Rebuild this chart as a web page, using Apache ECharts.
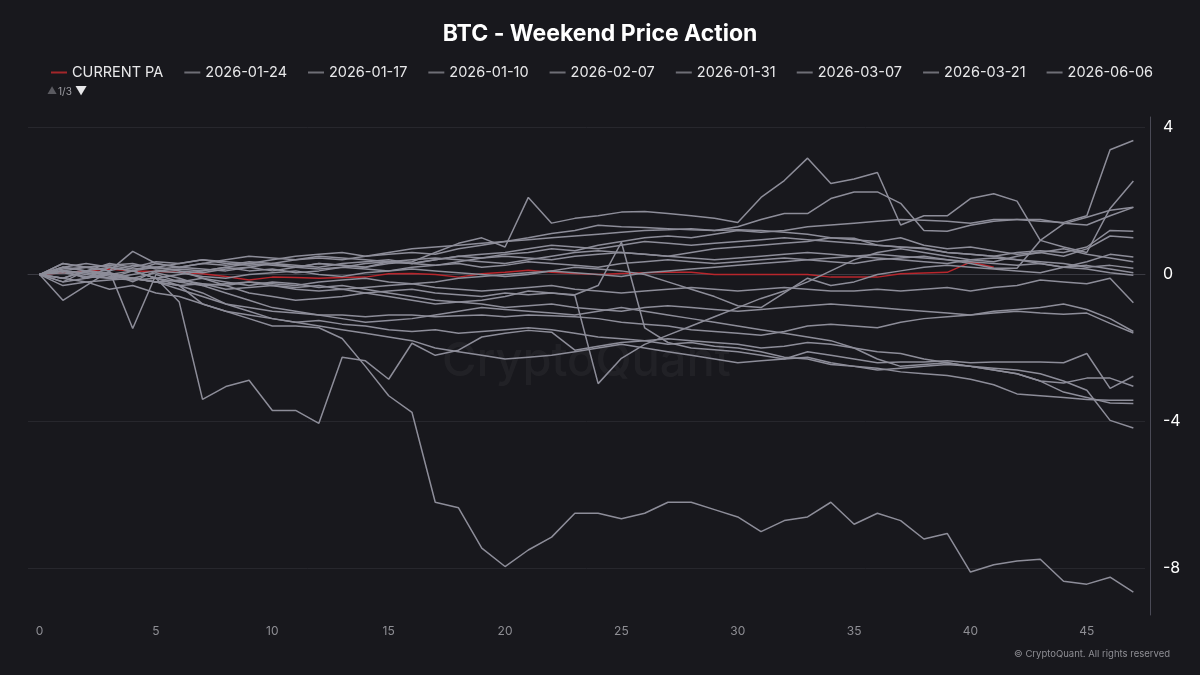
<!DOCTYPE html>
<html>
<head>
<meta charset="utf-8">
<title>BTC - Weekend Price Action</title>
<script type="text/javascript" src="https://cdn.jsdelivr.net/npm/echarts@6/dist/echarts.min.js"></script>
<style>
  html, body { margin: 0; padding: 0; background: #18181d; }
  #chart_view { width: 1200px; height: 675px; }
</style>
</head>
<body>
<div id="chart_view"></div>
<script type="text/javascript">
var steps = ['0','1','2','3','4','5','6','7','8','9','10','11','12','13','14','15','16','17','18','19','20','21','22','23',
             '24','25','26','27','28','29','30','31','32','33','34','35','36','37','38','39','40','41','42','43','44','45','46','47'];
var yTicks = [-8, -4, 0, 4];

var names = ['CURRENT PA','2026-01-24','2026-01-17','2026-01-10','2026-02-07','2026-01-31','2026-03-07','2026-03-21','2026-06-06',
             '2026-02-14','2026-02-21','2026-02-28','2026-03-14','2026-03-28','2026-04-04','2026-04-11','2026-04-18','2026-04-25',
             '2026-05-02','2026-05-09','2026-05-16'];

var current_pa = [0, 0.05, 0.1, 0.15, 0.1, 0.08, 0.06, 0.02, -0.05, -0.15, -0.07, -0.08, -0.1, -0.08, -0.07, 0.02, 0.03, 0, -0.07, 0.02, 0.06, 0.12, 0.06, 0.03, 0, 0.03, 0.05, 0.06, 0.06, 0, 0, 0, 0, 0, -0.07, -0.07, -0.07, 0.02, 0.04, 0.06, 0.34, 0.2];

var w_0124 = [0, 0.15, 0.2, 0.1, 0.25, 0.2, 0.1, 0.05, 0.15, 0.2, 0.1, 0.2, 0.3, 0.25, 0.2, 0.35, 0.3, 0.4, 0.5, 0.45, 0.55, 0.6, 0.7, 0.65, 0.8, 0.9, 1.0, 1.05, 1.0, 1.1, 1.2, 1.15, 1.2, 1.3, 1.35, 1.4, 1.45, 1.5, 1.48, 1.45, 1.4, 1.5, 1.5, 1.45, 1.42, 1.6, 3.4, 3.65];
var w_0117 = [0, 0.1, 0.2, 0.25, 0.3, 0.15, 0.2, 0.3, 0.25, 0.35, 0.3, 0.2, 0.3, 0.25, 0.2, 0.3, 0.35, 0.6, 0.85, 1.0, 0.75, 2.1, 1.4, 1.53, 1.6, 1.7, 1.72, 1.66, 1.6, 1.53, 1.42, 2.1, 2.56, 3.17, 2.48, 2.6, 2.78, 1.35, 1.6, 1.6, 2.07, 2.2, 2.0, 0.93, 0.75, 0.6, 1.8, 2.55];
var w_0110 = [0, 0.2, 0.1, 0.3, 0.2, 0.35, 0.3, 0.4, 0.3, 0.25, 0.3, 0.4, 0.45, 0.4, 0.5, 0.55, 0.6, 0.55, 0.7, 0.8, 0.9, 1.0, 1.12, 1.2, 1.34, 1.3, 1.28, 1.25, 1.22, 1.2, 1.3, 1.5, 1.66, 1.66, 2.07, 2.25, 2.25, 1.94, 1.2, 1.18, 1.34, 1.45, 1.5, 1.5, 1.4, 1.35, 1.6, 1.83];
var w_0207 = [0, -0.1, 0.1, 0.05, -0.2, 0.1, 0.15, 0.1, 0.2, 0.1, 0.15, 0.05, 0.1, 0.2, 0.15, 0.1, 0.2, 0.25, 0.3, 0.2, 0.25, 0.35, 0.3, 0.25, 0.2, 0.3, 0.35, 0.4, 0.35, 0.3, 0.35, 0.4, 0.45, 0.4, 0.35, 0.3, 0.4, 0.45, 0.5, 0.4, 0.3, 0.17, 0.17, 0.93, 1.38, 1.56, 1.75, 1.83];
var w_0131 = [0, 0.3, 0.2, 0.1, 0.63, 0.3, 0.2, 0.3, 0.4, 0.5, 0.45, 0.4, 0.5, 0.45, 0.4, 0.35, 0.3, 0.4, 0.5, 0.55, 0.6, 0.7, 0.8, 0.75, 0.7, 0.8, 0.9, 0.85, 0.8, 0.85, 0.9, 0.95, 1.0, 0.95, 0.9, 0.85, 0.8, 0.75, 0.7, 0.6, 0.55, 0.5, 0.6, 0.65, 0.6, 0.75, 1.2, 1.18];
var w_0307 = [0, 0.1, -0.1, 0.2, 0.1, 0.3, 0.2, 0.15, 0.1, 0.2, 0.3, 0.25, 0.2, 0.3, 0.35, 0.4, 0.3, 0.25, 0.35, 0.45, 0.5, 0.45, 0.4, 0.5, 0.55, 0.6, 0.55, 0.5, 0.6, 0.7, 0.75, 0.8, 0.85, 0.9, 1.0, 0.95, 0.9, 1.0, 0.8, 0.7, 0.75, 0.65, 0.55, 0.6, 0.5, 0.7, 1.05, 1.0];
var w_0321 = [0, -0.2, 0.1, 0.2, 0.1, -0.1, 0.0, 0.1, 0.2, 0.3, 0.25, 0.2, 0.15, 0.2, 0.3, 0.35, 0.4, 0.45, 0.4, 0.35, 0.3, 0.4, 0.5, 0.6, 0.65, 0.6, 0.55, 0.5, 0.45, 0.4, 0.45, 0.5, 0.55, 0.6, 0.55, 0.5, 0.45, 0.4, 0.35, 0.3, 0.4, 0.45, 0.4, 0.3, 0.2, 0.35, 0.55, 0.48];
var w_0606 = [0, 0.2, 0.3, 0.2, 0.1, 0.2, 0.3, 0.4, 0.35, 0.3, 0.4, 0.5, 0.55, 0.6, 0.5, 0.6, 0.7, 0.75, 0.8, 0.85, 0.9, 0.95, 1.0, 1.05, 1.1, 1.15, 1.2, 1.22, 1.25, 1.2, 1.22, 1.2, 1.15, 1.1, 1.0, 0.99, 0.8, 0.75, 0.72, 0.6, 0.55, 0.5, 0.4, 0.35, 0.3, 0.2, 0.25, 0.17];
var w_0214 = [0, 0.1, 0.05, -0.1, 0.0, 0.1, 0.05, -0.05, -0.1, 0.0, 0.05, 0.1, 0.0, -0.05, 0.05, 0.1, 0.15, 0.1, 0.05, 0.0, -0.05, 0.0, 0.1, 0.2, 0.15, 0.1, 0.0, -0.2, -0.4, -0.6, -0.85, -0.9, -0.5, -0.1, -0.3, -0.2, 0.0, 0.1, 0.2, 0.25, 0.2, 0.15, 0.1, 0.05, 0.2, 0.25, 0.15, 0.05];
var w_0221 = [0, 0.1, -0.1, 0.05, -0.1, -0.2, -0.3, -0.25, -0.4, -0.35, -0.3, -0.4, -0.45, -0.4, -0.5, -0.45, -0.4, -0.5, -0.55, -0.6, -0.5, -0.55, -0.5, -0.55, -0.3, 0.88, -1.45, -1.85, -2.0, -2.05, -2.1, -2.2, -2.3, -2.1, -2.2, -2.3, -2.4, -2.38, -2.38, -2.35, -2.4, -2.38, -2.38, -2.38, -2.4, -2.15, -3.1, -2.77];
var w_0228 = [0, -0.1, -0.2, -0.15, -0.1, -0.2, -0.15, -0.25, -0.3, -0.2, -0.25, -0.3, -0.2, -0.15, -0.1, -0.2, -0.25, -0.2, -0.1, -0.05, 0.0, 0.05, 0.1, 0.05, 0.0, -0.05, 0.05, 0.1, 0.15, 0.2, 0.25, 0.3, 0.35, 0.4, 0.45, 0.5, 0.55, 0.5, 0.45, 0.4, 0.35, 0.3, 0.25, 0.3, 0.2, 0.15, 0.05, -0.02];
var w_0314 = [0, 0.05, -0.05, -0.1, -0.15, -0.1, -0.2, -0.3, -0.25, -0.2, -0.3, -0.35, -0.3, -0.4, -0.35, -0.3, -0.25, -0.35, -0.4, -0.45, -0.4, -0.35, -0.3, -0.4, -0.45, -0.5, -0.45, -0.4, -0.35, -0.4, -0.45, -0.4, -0.35, -0.4, -0.45, -0.45, -0.4, -0.45, -0.4, -0.35, -0.45, -0.35, -0.3, -0.15, -0.2, -0.25, -0.1, -0.77];
var w_0328 = [0, -0.1, 0.1, -0.05, -0.1, -0.2, -0.4, -0.6, -0.8, -0.9, -1.0, -1.05, -1.1, -1.1, -1.15, -1.1, -1.1, -1.15, -1.12, -1.1, -1.15, -1.1, -1.12, -1.15, -1.2, -1.3, -1.35, -1.4, -1.5, -1.55, -1.6, -1.65, -1.55, -1.4, -1.35, -1.4, -1.45, -1.3, -1.2, -1.15, -1.1, -1.05, -1.0, -1.05, -1.08, -1.05, -1.33, -1.59];
var w_0404 = [0, 0.1, 0.05, 0.0, 0.1, -0.1, -0.75, -3.4, -3.05, -2.88, -3.7, -3.7, -4.05, -2.25, -2.35, -2.85, -1.87, -2.2, -2.06, -1.7, -1.6, -1.52, -1.57, -2.06, -1.95, -1.85, -1.8, -1.75, -1.8, -1.85, -1.9, -2.0, -1.95, -1.85, -1.9, -2.0, -2.1, -2.15, -2.3, -2.4, -2.5, -2.6, -2.7, -2.9, -2.95, -2.82, -2.82, -3.04];
var w_0411 = [0, -0.3, -0.2, -0.4, -0.3, -0.5, -0.6, -0.8, -1.0, -1.1, -1.2, -1.3, -1.25, -1.35, -1.4, -1.5, -1.55, -1.5, -1.6, -1.55, -1.5, -1.45, -1.5, -1.6, -1.7, -1.75, -1.8, -1.9, -1.85, -1.95, -2.0, -2.1, -2.25, -2.3, -2.45, -2.5, -2.55, -2.65, -2.7, -2.75, -2.85, -3.0, -3.25, -3.3, -3.35, -3.4, -3.42, -3.42];
var w_0418 = [0, -0.2, -0.1, 0.0, -0.1, 0.05, -0.1, -0.3, -0.5, -0.7, -0.9, -1.0, -1.1, -1.2, -1.3, -1.25, -1.2, -1.1, -1.0, -0.9, -0.95, -1.0, -1.05, -1.1, -1.0, -0.9, -1.0, -1.1, -1.2, -1.3, -1.4, -1.5, -1.6, -1.7, -1.8, -2.0, -2.3, -2.5, -2.45, -2.4, -2.5, -2.6, -2.7, -2.9, -3.2, -3.35, -3.5, -3.51];
var w_0425 = [0, 0.2, 0.1, 0.0, -0.1, -0.2, -0.3, -0.5, -0.8, -1.0, -1.2, -1.3, -1.4, -1.5, -1.6, -1.7, -1.8, -2.0, -2.1, -2.2, -2.3, -2.25, -2.2, -2.1, -2.0, -1.9, -2.0, -2.1, -2.2, -2.3, -2.4, -2.35, -2.3, -2.25, -2.4, -2.5, -2.6, -2.55, -2.5, -2.45, -2.5, -2.55, -2.6, -2.7, -2.9, -3.15, -3.97, -4.18];
var w_0502 = [0, 0.1, 0.0, -0.1, 0.1, -0.1, -0.3, -0.8, -1.0, -1.2, -1.4, -1.4, -1.45, -1.74, -2.5, -3.3, -3.75, -6.2, -6.35, -7.45, -7.95, -7.5, -7.15, -6.5, -6.5, -6.65, -6.5, -6.2, -6.2, -6.4, -6.6, -7.0, -6.7, -6.6, -6.2, -6.8, -6.5, -6.7, -7.2, -7.05, -8.1, -7.9, -7.8, -7.75, -8.35, -8.43, -8.24, -8.65];
var w_0509 = [0, 0.3, 0.2, 0.25, 0.15, 0.2, 0.1, -0.1, -0.3, -0.5, -0.6, -0.7, -0.65, -0.6, -0.5, -0.6, -0.7, -0.8, -0.75, -0.7, -0.6, -0.45, -0.5, -0.57, -2.97, -2.28, -1.9, -1.65, -1.4, -1.15, -0.9, -0.65, -0.45, -0.2, 0.1, 0.4, 0.6, 0.7, 0.6, 0.5, 0.4, 0.35, 0.5, 0.6, 0.7, 0.55, 0.45, 0.35];
var w_0516 = [0, -0.7, -0.3, 0.1, -1.47, 0.0, -0.2, -0.1, -0.2, -0.3, -0.2, -0.25, -0.35, -0.3, -0.4, -0.5, -0.6, -0.7, -0.75, -0.8, -0.9, -0.85, -0.8, -0.9, -0.95, -1.0, -0.9, -0.85, -0.9, -0.95, -1.0, -0.95, -0.9, -0.85, -0.8, -0.85, -0.9, -0.95, -1.0, -1.05, -1.1, -1.0, -0.95, -0.9, -0.8, -0.95, -1.2, -1.55];

var lines = [current_pa, w_0124, w_0117, w_0110, w_0207, w_0131, w_0307, w_0321, w_0606,
             w_0214, w_0221, w_0228, w_0314, w_0328, w_0404, w_0411, w_0418, w_0425, w_0502, w_0509, w_0516];

var myChart = echarts.init(document.getElementById('chart_view'));

var series = [];
for (var i = 0; i < lines.length; i++) {
  series.push({
    name: names[i],
    type: 'line',
    data: lines[i],
    symbol: 'none',
    lineStyle: { width: 1.5, color: i == 0 ? '#b8262c' : '#8d8d99' },
    itemStyle: { color: i == 0 ? '#a3262a' : '#6e6e76' }
  });
}

var option = {
  backgroundColor: '#18181d',
  animation: false,
  textStyle: { fontFamily: 'Inter' },
  title: {
    text: 'BTC - Weekend Price Action',
    left: 'center',
    top: 18,
    textStyle: { color: '#ffffff', fontSize: 23, fontWeight: 'bold', fontFamily: 'Inter' }
  },
  legend: {
    left: 46,
    top: 60,
    icon: 'rect',
    itemWidth: 16,
    itemHeight: 2,
    itemGap: 21,
    data: names.slice(0, 9),
    textStyle: { color: '#e8e8ea', fontSize: 14.5, fontFamily: 'Inter' }
  },
  grid: { left: 28, right: 55, top: 117, bottom: 60 },
  xAxis: {
    type: 'category',
    data: steps,
    boundaryGap: true,
    axisLine: { lineStyle: { color: '#3a3a42' } },
    axisTick: { alignWithLabel: true, interval: 4, length: 5, lineStyle: { color: '#3a3a42' } },
    axisLabel: { interval: 4, color: '#8e8e94', fontSize: 12, margin: 10 },
    splitLine: { show: false }
  },
  yAxis: {
    type: 'value',
    position: 'right',
    offset: 5,
    min: -9.27,
    max: 4.29,
    axisLine: { show: true, lineStyle: { color: '#4a4a56' } },
    axisTick: { show: false, customValues: yTicks },
    axisLabel: { customValues: yTicks, inside: false, align: 'left', color: '#ffffff', fontSize: 16, margin: 13 },
    splitLine: { show: true, lineStyle: { color: '#27272d', width: 1 } }
  },
  graphic: [
    { type: 'text', left: 47, top: 86, style: { text: '▲', fill: '#5a5a60', font: '10px Inter' } },
    { type: 'text', left: 58, top: 87, style: { text: '1/3', fill: '#a0a0a6', font: '10px Inter' } },
    { type: 'text', left: 75, top: 85, style: { text: '▼', fill: '#e8e8ea', font: '12px Inter' } },
    { type: 'text', left: 442, top: 338, z: -1, style: { text: 'CryptoQuant', fill: 'rgba(255,255,255,0.045)', font: '500 47px Inter' } },
    { type: 'text', right: 30, top: 649, style: { text: '© CryptoQuant. All rights reserved', fill: '#8e8e94', font: '9.5px Inter' } }
  ],
  series: series
};
// 使用刚指定的配置项和数据显示图表。
myChart.setOption(option);
</script>
</body>
</html>
